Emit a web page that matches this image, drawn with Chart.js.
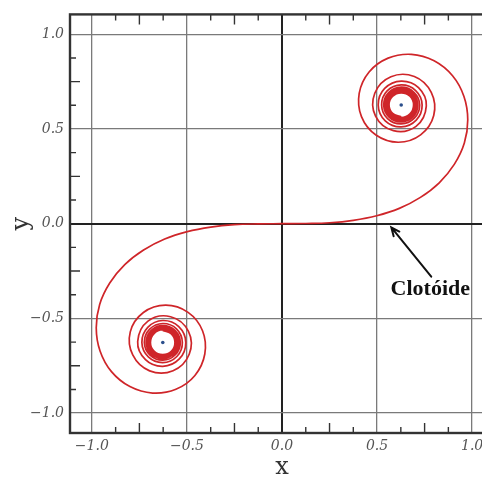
<!DOCTYPE html>
<html>
<head>
<meta charset="utf-8">
<script src="https://cdn.jsdelivr.net/npm/chart.js@4"></script>
<style>
  html, body { margin: 0; padding: 0; background: #fff; overflow: hidden; }
  canvas { display: block; }
</style>
</head>
<body>
<canvas id="c" width="500" height="480" style="width:500px;height:480px"></canvas>
<script>
// Clothoid (Euler spiral): branch from the origin winding into the upper-right centre
const upperX = [
  0, 0.125, 0.251, 0.375, 0.498, 0.617, 0.728, 0.827, 0.906, 0.959, 0.977, 0.957, 0.897, 0.800, 0.681, 0.558,
  0.458, 0.406, 0.418, 0.494, 0.612, 0.729, 0.798, 0.785, 0.696, 0.573, 0.488, 0.492, 0.586, 0.705, 0.759,
  0.718, 0.627, 0.540, 0.506, 0.543, 0.627, 0.706, 0.737, 0.703, 0.627, 0.553, 0.524, 0.555, 0.627, 0.696, 0.724,
  0.694, 0.627, 0.561, 0.535, 0.563, 0.627, 0.689, 0.714, 0.688, 0.627, 0.567, 0.544, 0.569, 0.627, 0.684, 0.707,
  0.683, 0.627, 0.572, 0.550, 0.573, 0.627, 0.680, 0.701, 0.679, 0.627, 0.576, 0.555, 0.577, 0.627, 0.676, 0.696,
  0.675, 0.627, 0.579, 0.559, 0.579, 0.627, 0.673, 0.692, 0.673, 0.627, 0.581, 0.563, 0.582, 0.627
];
const upperY = [
  0, 0.001, 0.005, 0.018, 0.042, 0.081, 0.139, 0.216, 0.313, 0.426, 0.549, 0.672, 0.781, 0.860, 0.894, 0.874,
  0.801, 0.688, 0.565, 0.468, 0.430, 0.469, 0.571, 0.693, 0.777, 0.776, 0.689, 0.568, 0.491, 0.514, 0.622,
  0.718, 0.753, 0.714, 0.627, 0.543, 0.511, 0.547, 0.627, 0.703, 0.733, 0.701, 0.627, 0.555, 0.527, 0.557, 0.627,
  0.694, 0.721, 0.692, 0.627, 0.563, 0.538, 0.564, 0.627, 0.688, 0.712, 0.686, 0.627, 0.569, 0.545, 0.570, 0.627,
  0.683, 0.705, 0.682, 0.627, 0.573, 0.551, 0.574, 0.627, 0.679, 0.700, 0.678, 0.627, 0.577, 0.557, 0.577, 0.627,
  0.675, 0.695, 0.675, 0.627, 0.579, 0.560, 0.580, 0.627, 0.673, 0.691, 0.672, 0.627, 0.582, 0.564
];

// Branch from the origin winding into the lower-left centre
const lowerX = [
  0, -0.125, -0.251, -0.375, -0.498, -0.617, -0.728, -0.827, -0.906, -0.959, -0.977, -0.957, -0.897, -0.800, -0.681, -0.558,
  -0.458, -0.406, -0.418, -0.494, -0.612, -0.729, -0.798, -0.785, -0.696, -0.573, -0.488, -0.492, -0.586, -0.705, -0.759,
  -0.718, -0.627, -0.540, -0.506, -0.543, -0.627, -0.706, -0.737, -0.703, -0.627, -0.553, -0.524, -0.555, -0.627, -0.696, -0.724,
  -0.694, -0.627, -0.561, -0.535, -0.563, -0.627, -0.689, -0.714, -0.688, -0.627, -0.567, -0.544, -0.569, -0.627, -0.684, -0.707,
  -0.683, -0.627, -0.572, -0.550, -0.573, -0.627, -0.680, -0.701, -0.679, -0.627, -0.576, -0.555, -0.577, -0.627, -0.676, -0.696,
  -0.675, -0.627, -0.579, -0.559, -0.579, -0.627, -0.673, -0.692, -0.673, -0.627, -0.581, -0.563, -0.582, -0.627
];
const lowerY = [
  0, -0.001, -0.005, -0.018, -0.042, -0.081, -0.139, -0.216, -0.313, -0.426, -0.549, -0.672, -0.781, -0.860, -0.894, -0.874,
  -0.801, -0.688, -0.565, -0.468, -0.430, -0.469, -0.571, -0.693, -0.777, -0.776, -0.689, -0.568, -0.491, -0.514, -0.622,
  -0.718, -0.753, -0.714, -0.627, -0.543, -0.511, -0.547, -0.627, -0.703, -0.733, -0.701, -0.627, -0.555, -0.527, -0.557, -0.627,
  -0.694, -0.721, -0.692, -0.627, -0.563, -0.538, -0.564, -0.627, -0.688, -0.712, -0.686, -0.627, -0.569, -0.545, -0.570, -0.627,
  -0.683, -0.705, -0.682, -0.627, -0.573, -0.551, -0.574, -0.627, -0.679, -0.700, -0.678, -0.627, -0.577, -0.557, -0.577, -0.627,
  -0.675, -0.695, -0.675, -0.627, -0.579, -0.560, -0.580, -0.627, -0.673, -0.691, -0.672, -0.627, -0.582, -0.564
];

// Asymptotic centres of the two spirals
const centerX = [0.627, -0.627];
const centerY = [0.627, -0.627];

// Axis ticks
const xTickValues = [-1.0, -0.5, 0.0, 0.5, 1.0];
const xTickLabels = ['\u22121.0', '\u22120.5', '0.0', '0.5', '1.0'];
const yTickValues = [-1.0, -0.5, 0.0, 0.5, 1.0];
const yTickLabels = ['\u22121.0', '\u22120.5', '0.0', '0.5', '1.0'];

const annotationText = 'Clot\u00f3ide';

const toPoints = (xs, ys) => xs.map((v, i) => ({ x: v, y: ys[i] }));

const CURVE_COLOR = '#cf2529';

// Inward minor ticks and the closed frame around the plot area
const frameAndTicks = {
  id: 'frameAndTicks',
  afterDatasetsDraw(chart) {
    const { ctx, chartArea: a, scales: { x, y } } = chart;
    ctx.save();
    ctx.strokeStyle = '#333';
    ctx.lineWidth = 1.4;
    ctx.beginPath();
    for (let i = -8; i <= 8; i++) {
      if (i % 4 === 0) continue;
      const v = i * 0.125;
      const len = i % 2 === 0 ? 10 : 6;
      const px = x.getPixelForValue(v);
      const py = y.getPixelForValue(v);
      ctx.moveTo(px, a.bottom); ctx.lineTo(px, a.bottom - len);
      ctx.moveTo(px, a.top); ctx.lineTo(px, a.top + len);
      ctx.moveTo(a.left, py); ctx.lineTo(a.left + len, py);
      ctx.moveTo(a.right, py); ctx.lineTo(a.right - len, py);
    }
    ctx.stroke();
    ctx.lineWidth = 2.4;
    ctx.strokeRect(a.left, a.top, a.right - a.left, a.bottom - a.top);
    ctx.restore();
  }
};

// Arrow and label naming the curve
const curveLabel = {
  id: 'curveLabel',
  afterDraw(chart) {
    const { ctx, scales: { x, y } } = chart;
    const tipX = x.getPixelForValue(0.575), tipY = y.getPixelForValue(-0.02);
    const tailX = x.getPixelForValue(0.785), tailY = y.getPixelForValue(-0.28);
    ctx.save();
    ctx.strokeStyle = '#111';
    ctx.lineWidth = 2;
    ctx.lineCap = 'round';
    ctx.beginPath();
    ctx.moveTo(tailX, tailY);
    ctx.lineTo(tipX, tipY);
    const ang = Math.atan2(tipY - tailY, tipX - tailX);
    const head = 9, spread = 0.42;
    ctx.moveTo(tipX - head * Math.cos(ang - spread), tipY - head * Math.sin(ang - spread));
    ctx.lineTo(tipX, tipY);
    ctx.lineTo(tipX - head * Math.cos(ang + spread), tipY - head * Math.sin(ang + spread));
    ctx.stroke();
    ctx.fillStyle = '#111';
    ctx.font = 'bold 22px "Liberation Serif", "Times New Roman", serif';
    ctx.textAlign = 'center';
    ctx.textBaseline = 'alphabetic';
    ctx.fillText(annotationText, x.getPixelForValue(0.78), y.getPixelForValue(-0.378));
    ctx.restore();
  }
};

const tickFont = { family: '"DejaVu Serif", serif', style: 'italic', size: 14 };
const titleFont = { family: '"DejaVu Serif", serif', size: 24, lineHeight: 1.0 };

new Chart(document.getElementById('c'), {
  type: 'scatter',
  data: {
    datasets: [
      {
        data: toPoints(upperX, upperY),
        showLine: true,
        borderColor: CURVE_COLOR,
        borderWidth: 1.7,
        tension: 0.4,
        pointRadius: 0,
        fill: false
      },
      {
        data: toPoints(lowerX, lowerY),
        showLine: true,
        borderColor: CURVE_COLOR,
        borderWidth: 1.7,
        tension: 0.4,
        pointRadius: 0,
        fill: false
      },
      {
        data: toPoints(centerX, centerY),
        showLine: false,
        pointRadius: 1.8,
        pointBackgroundColor: '#2b4f8c',
        pointBorderWidth: 0
      }
    ]
  },
  options: {
    responsive: false,
    animation: false,
    layout: { padding: { top: 13, right: 6, left: 0, bottom: 0 } },
    plugins: { legend: { display: false }, tooltip: { enabled: false } },
    scales: {
      x: {
        type: 'linear',
        min: -1.115,
        max: 1.115,
        afterBuildTicks: s => { s.ticks = xTickValues.map(v => ({ value: v })); },
        afterFit: s => { s.height = 47; },
        ticks: {
          callback: (v, i) => xTickLabels[i],
          font: tickFont,
          color: '#555',
          padding: 5,
          maxRotation: 0
        },
        grid: {
          drawTicks: false,
          color: c => (c.tick && c.tick.value === 0 ? '#222' : '#7a7a7a'),
          lineWidth: c => (c.tick && c.tick.value === 0 ? 2 : 1.3)
        },
        border: { display: false },
        title: { display: true, text: 'x', font: titleFont, color: '#333', padding: { top: 0, bottom: 0 } }
      },
      y: {
        type: 'linear',
        min: -1.105,
        max: 1.105,
        afterBuildTicks: s => { s.ticks = yTickValues.map(v => ({ value: v })); },
        afterFit: s => { s.width = 70; },
        ticks: {
          callback: (v, i) => yTickLabels[i],
          font: tickFont,
          color: '#555',
          padding: 6
        },
        grid: {
          drawTicks: false,
          color: c => (c.tick && c.tick.value === 0 ? '#222' : '#7a7a7a'),
          lineWidth: c => (c.tick && c.tick.value === 0 ? 2 : 1.3)
        },
        border: { display: false },
        title: { display: true, text: 'y', font: titleFont, color: '#333', padding: { top: 10, bottom: 0 } }
      }
    }
  },
  plugins: [frameAndTicks, curveLabel]
});
</script>
</body>
</html>
